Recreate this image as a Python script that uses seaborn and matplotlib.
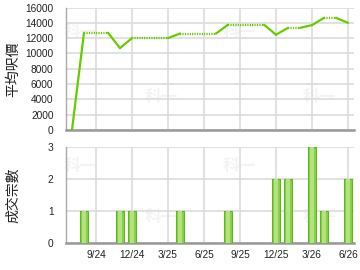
import matplotlib
matplotlib.use("Agg")
import matplotlib.pyplot as plt
import seaborn as sns
import pandas as pd
import numpy as np

months = ["7/24", "8/24", "9/24", "10/24", "11/24", "12/24",
          "1/25", "2/25", "3/25", "4/25", "5/25", "6/25",
          "7/25", "8/25", "9/25", "10/25", "11/25", "12/25",
          "1/26", "2/26", "3/26", "4/26", "5/26", "6/26"]
avg_price = [0, 12700, 12700, 12700, 10700, 12000,
             12000, 12000, 12000, 12600, 12600, 12600,
             12600, 13750, 13750, 13750, 13750, 12450,
             13340, 13340, 13700, 14650, 14650, 14000]
deals = [0, 1, 0, 0, 1, 1,
         0, 0, 0, 1, 0, 0,
         0, 1, 0, 0, 0, 2,
         2, 0, 3, 1, 0, 2]
tick_labels = ["9/24", "12/24", "3/25", "6/25", "9/25", "12/25", "3/26", "6/26"]

sns.set_style("white")
plt.rcParams['font.family'] = ['Liberation Sans', 'Noto Sans CJK TC', 'DejaVu Sans']

df = pd.DataFrame({"month": months, "idx": np.arange(len(months)),
                   "price": avg_price, "deals": deals})
tick_pos = [months.index(t) for t in tick_labels]

fig = plt.figure(figsize=(3.6, 2.7), dpi=100)
ax1 = fig.add_axes([0.1833, 0.5185, 0.8, 0.4537])
ax2 = fig.add_axes([0.1833, 0.1, 0.8, 0.3556])

line_color = "#66CC00"
grid_color = "#dcdcdc"

# line segments: solid into months with deals (or first), dotted otherwise
for i in range(len(months) - 1):
    seg = df.iloc[i:i + 2]
    solid = deals[i + 1] > 0 or i == 0
    sns.lineplot(data=seg, x="idx", y="price", ax=ax1, color=line_color,
                 linewidth=1.6, zorder=3)
    ln = ax1.lines[-1]
    if solid:
        ln.set_linestyle("-")
    else:
        ln.set_linestyle((0, (0.55, 0.55)))
        ln.set_dash_capstyle("butt")

# bars
bar_df = df[df["deals"] > 0]
sns.barplot(data=bar_df, x="month", y="deals", order=months, ax=ax2,
            color="#88d044", saturation=1, width=0.66,
            edgecolor="#66b226", linewidth=0.8, zorder=3)
sns.barplot(data=bar_df, x="month", y="deals", order=months, ax=ax2,
            color="#b0e47c", saturation=1, width=0.32,
            linewidth=0, zorder=4)
sns.barplot(data=bar_df, x="month", y="deals", order=months, ax=ax2,
            color="#6cb82a", saturation=1, width=0.08,
            linewidth=0, zorder=5)

for ax in (ax1, ax2):
    ax.set_xlim(-0.5, 23.5)
    ax.set_xticks(tick_pos)
    ax.grid(True, color=grid_color, linewidth=1.2, zorder=0)
    ax.set_axisbelow(True)
    for s in ("top", "right"):
        ax.spines[s].set_visible(False)
    ax.spines["left"].set_color("#aaaaaa")
    ax.spines["left"].set_linewidth(1.0)
    ax.spines["bottom"].set_color("#999999")
    ax.spines["bottom"].set_linewidth(1.8)
    ax.tick_params(axis="y", direction="in", length=3, color="#bbbbbb",
                   labelsize=7.3, pad=9, labelcolor="#222222")
    ax.set_xlabel("")
    for (xf, yf) in [(0.05, 0.8), (0.33, 0.27), (0.6, 0.8), (0.88, 0.27)]:
        ax.text(xf, yf, "科一", transform=ax.transAxes, fontsize=12,
                fontweight="bold", color="#f3f3f3",
                family=['Noto Sans CJK TC'], ha="center", va="center",
                zorder=0.1)

ax1.set_ylim(0, 16000)
ax1.set_yticks(range(0, 16001, 2000))
ax1.set_xticklabels([])
ax1.tick_params(axis="x", length=0)
ax1.set_ylabel("平均呎價", family=['Noto Sans CJK TC'], fontsize=10,
               color="#222222")
ax1.yaxis.set_label_coords(-0.16, 0.5)

ax2.set_ylim(0, 3)
ax2.set_yticks([0, 1, 2, 3])
ax2.set_xticks(tick_pos)
ax2.set_xticklabels(tick_labels)
ax2.tick_params(axis="x", direction="out", length=3, color="#999999",
                labelsize=7.3, pad=2, labelcolor="#222222")
ax2.set_ylabel("成交宗數", family=['Noto Sans CJK TC'], fontsize=10,
               color="#222222")
ax2.yaxis.set_label_coords(-0.16, 0.5)

fig.savefig("out.png", dpi=100)
